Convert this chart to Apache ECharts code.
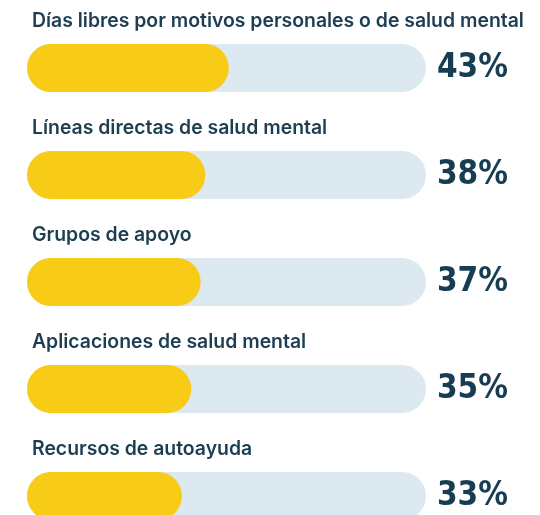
<!DOCTYPE html>
<html>
<head>
<meta charset="utf-8">
<script src="https://cdn.jsdelivr.net/npm/echarts@6/dist/echarts.min.js"></script>
<style>
html,body{margin:0;padding:0;background:#fff;}
#chart{width:540px;height:515px;}
</style>
</head>
<body>
<div id="chart"></div>
<script>
const categories = [
  'Días libres por motivos personales o de salud mental',
  'Líneas directas de salud mental',
  'Grupos de apoyo',
  'Aplicaciones de salud mental',
  'Recursos de autoayuda'
];
const values = [43, 38, 37, 35, 33];
const axisMax = 85;

const chart = echarts.init(document.getElementById('chart'), null, {renderer: 'canvas'});
chart.setOption({
  animation: false,
  backgroundColor: '#ffffff',
  grid: {left: 27, right: 114, top: 68, bottom: 19, containLabel: false},
  xAxis: {type: 'value', min: 0, max: axisMax, show: false},
  yAxis: [
    {type: 'category', data: categories, inverse: true, boundaryGap: false, show: false},
    {
      type: 'category', data: categories, inverse: true, boundaryGap: false, position: 'right',
      axisLine: {show: false}, axisTick: {show: false}, splitLine: {show: false},
      axisLabel: {
        formatter: function (v, i) { return values[i] + '%'; },
        align: 'right', margin: 82,
        color: '#163d52', fontSize: 33, fontWeight: 'bold',
        fontFamily: '"DejaVu Sans Condensed", "DejaVu Sans", sans-serif'
      }
    }
  ],
  series: [{
    type: 'bar',
    yAxisIndex: 0,
    data: values,
    barWidth: 48,
    clip: false,
    showBackground: true,
    backgroundStyle: {color: '#dde9f0', borderRadius: 24},
    itemStyle: {color: '#f8cb16', borderRadius: 24},
    label: {
      show: true,
      position: [5, -23],
      align: 'left',
      verticalAlign: 'middle',
      formatter: function (p) { return p.name; },
      color: '#1d3e52',
      fontSize: 19.4,
      fontWeight: 600,
      fontFamily: 'Inter, sans-serif'
    }
  }]
});
</script>
</body>
</html>
